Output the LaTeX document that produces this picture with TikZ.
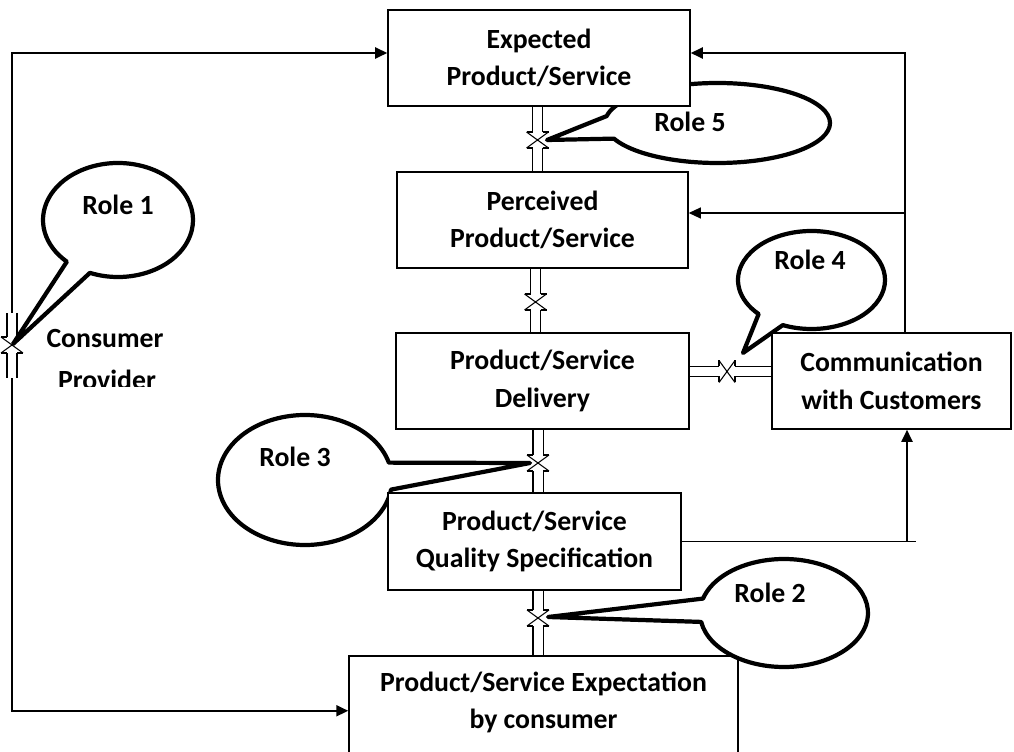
\documentclass[tikz,border=0pt]{standalone}
\usepackage{fontspec}
\setmainfont{Carlito}
\usepackage{tikz}
\usetikzlibrary{calc,positioning,arrows.meta}
\pgfdeclarelayer{background}
\pgfsetlayers{background,main}

\tikzset{
  procbox/.style={draw, line width=0.9pt, fill=white, minimum height=1.92cm, align=center, inner sep=0pt},
  flow/.style={line width=1.1pt, -{Triangle[length=0.24cm,width=0.22cm]}},
  shaft/.style={double, double distance=0.18cm, line width=0.6pt},
  bubble/.style={draw, fill=white, line width=2.4pt, line join=round},
  roletext/.style={font=\fontsize{15.8}{18}\selectfont\bfseries}
}

% X-shaped meeting point of two opposed hollow arrows
\newcommand{\crossing}[2]{%
  \begin{scope}[shift={(#1)}, rotate=#2, line width=0.6pt]
    \draw (-11,-8) -- (11,8) (-11,8) -- (11,-8);
    \draw (-5,8) -- (-11,8) (5,8) -- (11,8) (-5,-8) -- (-11,-8) (5,-8) -- (11,-8);
  \end{scope}}

\begin{document}
\begin{tikzpicture}[x=0.02cm, y=0.02cm, every node/.style={font=\fontsize{15.8}{21.5}\selectfont\bfseries}]
  \useasboundingbox (0,0) rectangle (1014,751);
  \clip (0,0) rectangle (1014,751);

  \coordinate (c1) at (537.5,611);
  \coordinate (c2) at (535.5,449);
  \coordinate (c3) at (538,288);
  \coordinate (c4) at (538,133);
  \coordinate (c5) at (727,379.5);
  \coordinate (c6) at (12,406);
  \coordinate (lt) at (12,438);
  \coordinate (lb) at (12,373);
  \coordinate (rb) at (905,0);
  \coordinate (rq) at (907,0);

  % expectation box goes first, the role 2 bubble lies over it
  \node[procbox, minimum width=7.78cm, minimum height=2.2cm, anchor=north] (cex) at (543.5,96) {};
  \node[align=center] (cexlabel) at (543.5,48.5) {Product/Service Expectation\\by consumer};

  % role bubbles
  \draw[bubble] (118,531) ++(248:75 and 57) arc[start angle=248, end angle=587, x radius=75, y radius=57] -- (13,407) -- cycle;
  \draw[bubble] (717.5,628) ++(203:112.5 and 40) arc[start angle=203, end angle=530, x radius=112.5, y radius=40] -- (547,611) -- cycle;
  \draw[bubble] (811.5,471) ++(247:73.5 and 49) arc[start angle=247, end angle=584, x radius=73.5, y radius=49] -- (743,398) -- cycle;
  \draw[bubble] (305,271) ++(15.5:87 and 65) arc[start angle=15.5, end angle=351.5, x radius=87, y radius=65] -- (530,288) -- cycle;
  \draw[bubble] (784,138) ++(189.5:84 and 54) arc[start angle=189.5, end angle=524.5, x radius=84, y radius=54] -- (548,134) -- cycle;

  \node[roletext] (role1) at (118,546) {Role 1};
  \node[roletext] (role2) at (770,158) {Role 2};
  \node[roletext] (role3) at (295,294) {Role 3};
  \node[roletext] (role4) at (810,491) {Role 4};
  \node[roletext] (role5) at (690,629) {Role 5};

  \node[procbox, minimum width=6.04cm] (exp) at (539,693) {Expected\\Product/Service};
  \node[procbox, minimum width=5.82cm] (per) at (542.5,531) {Perceived\\Product/Service};
  \node[procbox, minimum width=5.86cm] (del) at (542.5,370) {Product/Service\\Delivery};
  \node[procbox, minimum width=4.78cm] (com) at (891.5,370) {Communication\\with Customers};
  \node[procbox, minimum width=5.86cm, minimum height=1.94cm] (qua) at (534.5,209.5) {Product/Service\\Quality Specification};

  \begin{scope}
    \clip (0,364) rectangle (300,460);
    \node[anchor=base] (cons) at (105,403) {Consumer};
    \node[anchor=base] (prov) at (107,361) {Provider};
  \end{scope}

  \begin{pgfonlayer}{background}
    \draw[flow] (lt) |- ([yshift=0.1cm]exp.west);
    \draw[flow] (lb) |- (cex.west);
    \draw[shaft] (lt) -- ($(c6)+(0,8)$) ($(c6)-(0,8)$) -- (lb);
    \crossing{c6}{0}
    \foreach \a/\b/\c in {exp/per/c1, per/del/c2, del/qua/c3, qua/cex/c4}
    {
      \draw[shaft] (\a.south -| \c) -- ($(\c)+(0,8)$) ($(\c)-(0,8)$) -- (\b.north -| \c);
      \crossing{\c}{0}
    }
    \draw[shaft] (del.east |- c5) -- ($(c5)-(8,0)$) ($(c5)+(8,0)$) -- (com.west |- c5);
    \crossing{c5}{90}

    \coordinate (perin) at ([yshift=0.14cm]per.east);
    \draw[flow] (com.north -| rb) |- ([yshift=0.1cm]exp.east);
    \draw[flow, line width=0.6pt] (rb |- perin) -- (perin);
    \draw[line width=0.6pt] (qua.east) -- ++(234,0);
    \draw[flow] (qua.east -| rq) -- (com.south -| rq);
  \end{pgfonlayer}
\end{tikzpicture}
\end{document}
